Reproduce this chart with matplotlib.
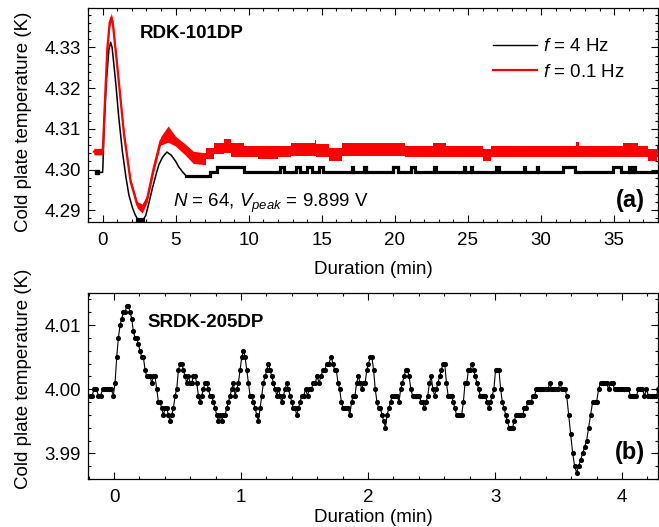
import numpy as np
import matplotlib
matplotlib.use('Agg')
import matplotlib.pyplot as plt
from matplotlib.ticker import MultipleLocator, FormatStrFormatter

plt.rcParams['font.family'] = ['Liberation Sans', 'DejaVu Sans']
plt.rcParams['mathtext.fontset'] = 'custom'
plt.rcParams['mathtext.rm'] = 'Liberation Sans'
plt.rcParams['mathtext.it'] = 'Liberation Sans:italic'
plt.rcParams['mathtext.bf'] = 'Liberation Sans:bold'

# ---------------- panel (a) data ----------------
# f = 4 Hz, transient (min, K)
bk_t = [-0.40, -0.05, 0.00, 0.02, 0.09, 0.25, 0.43, 0.55, 0.65, 0.90, 1.10, 1.35, 1.60,
        1.80, 2.05, 2.25, 2.45, 2.60, 2.75, 2.95, 3.15, 3.40, 3.65, 3.85, 4.10, 4.40,
        4.70, 5.00, 5.20, 5.45, 5.70]
bk_T = [4.2993, 4.2993, 4.2993, 4.3008, 4.3090, 4.3213, 4.3295, 4.3313, 4.3300, 4.3212,
        4.3130, 4.3045, 4.2980, 4.2937, 4.2905, 4.2887, 4.2875, 4.2871, 4.2875, 4.2887,
        4.2915, 4.2953, 4.2987, 4.3012, 4.3030, 4.3043, 4.3035, 4.3020, 4.3007, 4.2995,
        4.2985]
# f = 4 Hz, quantised tail: level changes
bk_tail_t = [5.70, 7.35, 7.80, 9.70, 12.15, 12.40, 13.20, 13.50, 14.00, 14.30, 14.80,
             15.10, 17.05, 17.15, 17.90, 18.00, 19.90, 20.20, 21.10, 21.40, 22.70, 22.80,
             24.70, 24.80, 25.20, 25.30, 26.90, 27.10, 28.80, 28.90, 29.70, 29.80, 31.50,
             32.30, 34.90, 35.50, 36.00, 36.10, 36.30, 36.40, 38.00]
bk_tail_T = [4.2985, 4.2995, 4.3006, 4.2995, 4.3006, 4.2995, 4.3006, 4.2995, 4.3006,
             4.2995, 4.3006, 4.2995, 4.3006, 4.2995, 4.3006, 4.2995, 4.3006, 4.2995,
             4.3006, 4.2995, 4.3006, 4.2995, 4.3006, 4.2995, 4.3006, 4.2995, 4.3006,
             4.2995, 4.3006, 4.2995, 4.3006, 4.2995, 4.3006, 4.2995, 4.3006, 4.2995,
             4.3006, 4.2995, 4.3006, 4.2995, 4.2995]

# f = 0.1 Hz, transient band (min, lower K, upper K)
rd_t = [-0.60, 0.00, 0.02, 0.16, 0.32, 0.48, 0.59, 0.70, 1.00, 1.46, 1.91, 2.37, 2.71,
        3.05, 3.50, 3.96, 4.48, 4.98, 5.67, 6.20, 7.00]
rd_lo = [4.3036, 4.3036, 4.3045, 4.3162, 4.3288, 4.3352, 4.3362, 4.3350, 4.3246, 4.3080,
         4.2963, 4.2905, 4.2893, 4.2920, 4.2995, 4.3060, 4.3067, 4.3058, 4.3035, 4.3015,
         4.3012]
rd_hi = [4.3052, 4.3052, 4.3060, 4.3178, 4.3304, 4.3368, 4.3385, 4.3368, 4.3262, 4.3096,
         4.2979, 4.2921, 4.2915, 4.2938, 4.3013, 4.3080, 4.3107, 4.3082, 4.3062, 4.3045,
         4.3041]
# f = 0.1 Hz, tail band: level changes
rd_tail_t = [7.00, 7.10, 7.60, 8.30, 8.80, 9.70, 10.60, 12.00, 12.90, 14.50, 14.60, 15.50,
             16.40, 18.90, 20.70, 22.60, 23.50, 26.00, 26.60, 32.40, 32.60, 35.60, 36.60,
             37.30, 37.90, 38.00]
rd_tail_lo = [4.3012, 4.3025, 4.3037, 4.3040, 4.3030, 4.3030, 4.3025, 4.3030, 4.3032,
              4.3032, 4.3030, 4.3020, 4.3032, 4.3032, 4.3030, 4.3030, 4.3030, 4.3022,
              4.3030, 4.3030, 4.3030, 4.3030, 4.3030, 4.3022, 4.3030, 4.3030]
rd_tail_hi = [4.3041, 4.3053, 4.3066, 4.3075, 4.3066, 4.3057, 4.3057, 4.3057, 4.3066,
              4.3072, 4.3062, 4.3053, 4.3066, 4.3066, 4.3057, 4.3066, 4.3057, 4.3050,
              4.3057, 4.3068, 4.3057, 4.3066, 4.3057, 4.3050, 4.3057, 4.3057]

# ---------------- panel (b) data ----------------
# readings in mK relative to 4.000 K, grouped in stretches (start, end in min)
b_seg_start = [-0.190, 0.008, 1.478, 1.710, 3.564]
b_seg_end = [-0.005, 1.465, 1.690, 3.551, 4.286]
b_vals_1 = [-1, -1, 0, 0, -1, -1, 0, 0, 0, 0, 0, -1]
b_vals_2 = [1, 5, 8, 10, 11, 12, 12, 13, 13, 12, 11, 9, 8, 8, 7, 6, 5, 5, 3, 2, 2, 2, 1, 2,
            2, 0, -2, -2, -3, -4, -3, -3, -4, -5, -4, -3, -1, 0, 3, 4, 4, 3, 2, 1, 2, 1, 1,
            2, 2, 1, -1, -2, -1, 0, 1, 1, 0, -1, -1, -2, -3, -4, -5, -4, -5, -4, -4, -3,
            -2, -1, 0, 1, -1, 0, 1, 3, 5, 6, 5, 3, 1, -1, -1, -2, -3, -4, -5, -3, -1, 1, 2,
            3, 4, 3, 2, 1, 0, -1, 0, -1, -2, -1, 0, 1, 0, -1, -2, -3, -3, -4, -3, -2]
b_vals_3 = [-1, -1, 0, -1, 0, 0, 1, 1, 2, 1, 2, 3, 3, 4, 4]
b_vals_4 = [5, 4, 3, 3, 1, 0, -2, -3, -3, -3, -3, -4, -2, -1, -1, 1, 2, 1, 0, 1, 1, 3, 4, 5,
            5, 3, 0, -2, -3, -3, -4, -5, -6, -4, -3, -2, -1, -1, -1, -1, -2, 0, 1, 2, 3, 3,
            2, 0, -1, -1, -1, -1, -1, -2, -2, -3, -2, -1, 1, 2, 0, -1, 0, 1, 2, 3, 4, 4, 1,
            -1, -1, -1, -2, -3, -4, -4, -4, -4, -2, 1, 1, 3, 3, 4, 3, 2, 1, 0, -1, -1, -1,
            -1, -2, -3, -2, -1, 0, 3, 3, 3, 0, -2, -3, -4, -5, -6, -6, -6, -5, -4, -4, -4,
            -4, -4, -3, -3, -2, -2, -2, -1, -1, 0, 0, 0, 0, 0, 0, 0, 0, 1, 0, 0, 0, 0, 0,
            1, 0, 0, 0]
b_vals_5 = [-1, -4, -7, -10, -12, -13, -12, -11, -10, -9, -8, -6, -4, -2, -2, -2, 0, 1, 1,
            1, 1, 0, 1, 1, 0, 0, 0, 0, 0, 0, 0, 0, -1, -1, -1, -1, 0, 0, 0, -1, 0, -1, -1,
            -1, -1, -1, 0]
b_base = 4.000

# ---------------- figure ----------------
W, H = 659, 527
fig = plt.figure(figsize=(W / 100, H / 100), dpi=100)
ax1 = fig.add_axes([88 / W, 1 - 222 / H, 570 / W, 214 / H])
ax2 = fig.add_axes([88 / W, 1 - 479 / H, 570 / W, 186 / H])

FS = 13.5

# panel (a)
ax1.plot(bk_t, bk_T, color='black', lw=1.1, zorder=2)
ax1.plot(bk_tail_t, bk_tail_T, color='black', lw=2.3, drawstyle='steps-post',
         solid_joinstyle='miter', zorder=2)
ax1.plot([bk_t[0]], [bk_T[0]], 's', color='black', ms=2.5, zorder=2)
ax1.plot([bk_t[16], bk_t[18]], [bk_T[16], bk_T[18]], color='black', lw=3, zorder=2)

ax1.fill_between(rd_t, rd_lo, rd_hi, color='red', lw=0, zorder=3)
ax1.plot(rd_t, (np.array(rd_lo) + np.array(rd_hi)) / 2, color='red', lw=1.6, zorder=3)
ax1.fill_between(rd_tail_t, rd_tail_lo, rd_tail_hi, step='post', color='red', lw=0,
                 zorder=3)

ax1.plot([], [], color='black', lw=1.0, label='$f$ = 4 Hz')
ax1.plot([], [], color='red', lw=1.6, label='$f$ = 0.1 Hz')
ax1.legend(loc='upper left', bbox_to_anchor=(0.71, 0.86), frameon=False, fontsize=FS,
           handlelength=2.35, handletextpad=0.35, labelspacing=0.45, borderpad=0,
           borderaxespad=0)

ax1.set_xlim(-1, 38)
ax1.set_ylim(4.2871, 4.3397)
ax1.xaxis.set_major_locator(MultipleLocator(5))
ax1.xaxis.set_minor_locator(MultipleLocator(1))
ax1.yaxis.set_major_locator(MultipleLocator(0.01))
ax1.yaxis.set_minor_locator(MultipleLocator(0.002))
ax1.yaxis.set_major_formatter(FormatStrFormatter('%.2f'))
ax1.set_xlabel('Duration (min)', fontsize=FS, labelpad=9)
ax1.set_ylabel('Cold plate temperature (K)', fontsize=FS)
ax1.yaxis.set_label_coords(-0.099, 0.47)

ax1.text(0.091, 0.88, 'RDK-101DP', transform=ax1.transAxes, fontsize=13.5,
         fontweight='bold', va='center', ha='left')
ax1.text(0.149, 0.085, r'$N$ = 64, $V_{peak}$ = 9.899 V', transform=ax1.transAxes,
         fontsize=FS, va='center', ha='left')
ax1.text(0.977, 0.099, '(a)', transform=ax1.transAxes, fontsize=17,
         fontweight='bold', va='center', ha='right')

# panel (b)
seg_vals = [b_vals_1, b_vals_2, b_vals_3, b_vals_4, b_vals_5]
bt, bv = [], []
for s, e, v in zip(b_seg_start, b_seg_end, seg_vals):
    bt.append(np.linspace(s, e, len(v)))
    bv.append(b_base + np.array(v) / 1000.0)
bt = np.concatenate(bt)
bv = np.concatenate(bv)
ax2.plot(bt, bv, '-o', color='black', lw=0.8, ms=3.7, mec='black', mew=0, zorder=3,
         clip_on=True)

ax2.set_xlim(-0.205, 4.283)
ax2.set_ylim(3.986, 4.015)
ax2.xaxis.set_major_locator(MultipleLocator(1))
ax2.xaxis.set_minor_locator(MultipleLocator(0.2))
ax2.yaxis.set_major_locator(MultipleLocator(0.01))
ax2.yaxis.set_minor_locator(MultipleLocator(0.002))
ax2.yaxis.set_major_formatter(FormatStrFormatter('%.2f'))
ax2.set_xlabel('Duration (min)', fontsize=FS, labelpad=2.5)
ax2.set_ylabel('Cold plate temperature (K)', fontsize=FS)
ax2.yaxis.set_label_coords(-0.099, 0.54)

ax2.text(0.105, 0.839, 'SRDK-205DP', transform=ax2.transAxes, fontsize=13.5,
         fontweight='bold', va='center', ha='left')
ax2.text(0.977, 0.145, '(b)', transform=ax2.transAxes, fontsize=17,
         fontweight='bold', va='center', ha='right')

for ax in (ax1, ax2):
    ax.tick_params(which='both', direction='in', top=True, right=True, labelsize=FS,
                   width=0.8)
    ax.tick_params(which='major', length=5)
    ax.tick_params(which='minor', length=2.5)
    ax.tick_params(axis='y', which='major', pad=5)
    ax.tick_params(axis='x', which='major', pad=7.2)
    for sp in ax.spines.values():
        sp.set_linewidth(0.9)

fig.savefig('out.png', dpi=100)
